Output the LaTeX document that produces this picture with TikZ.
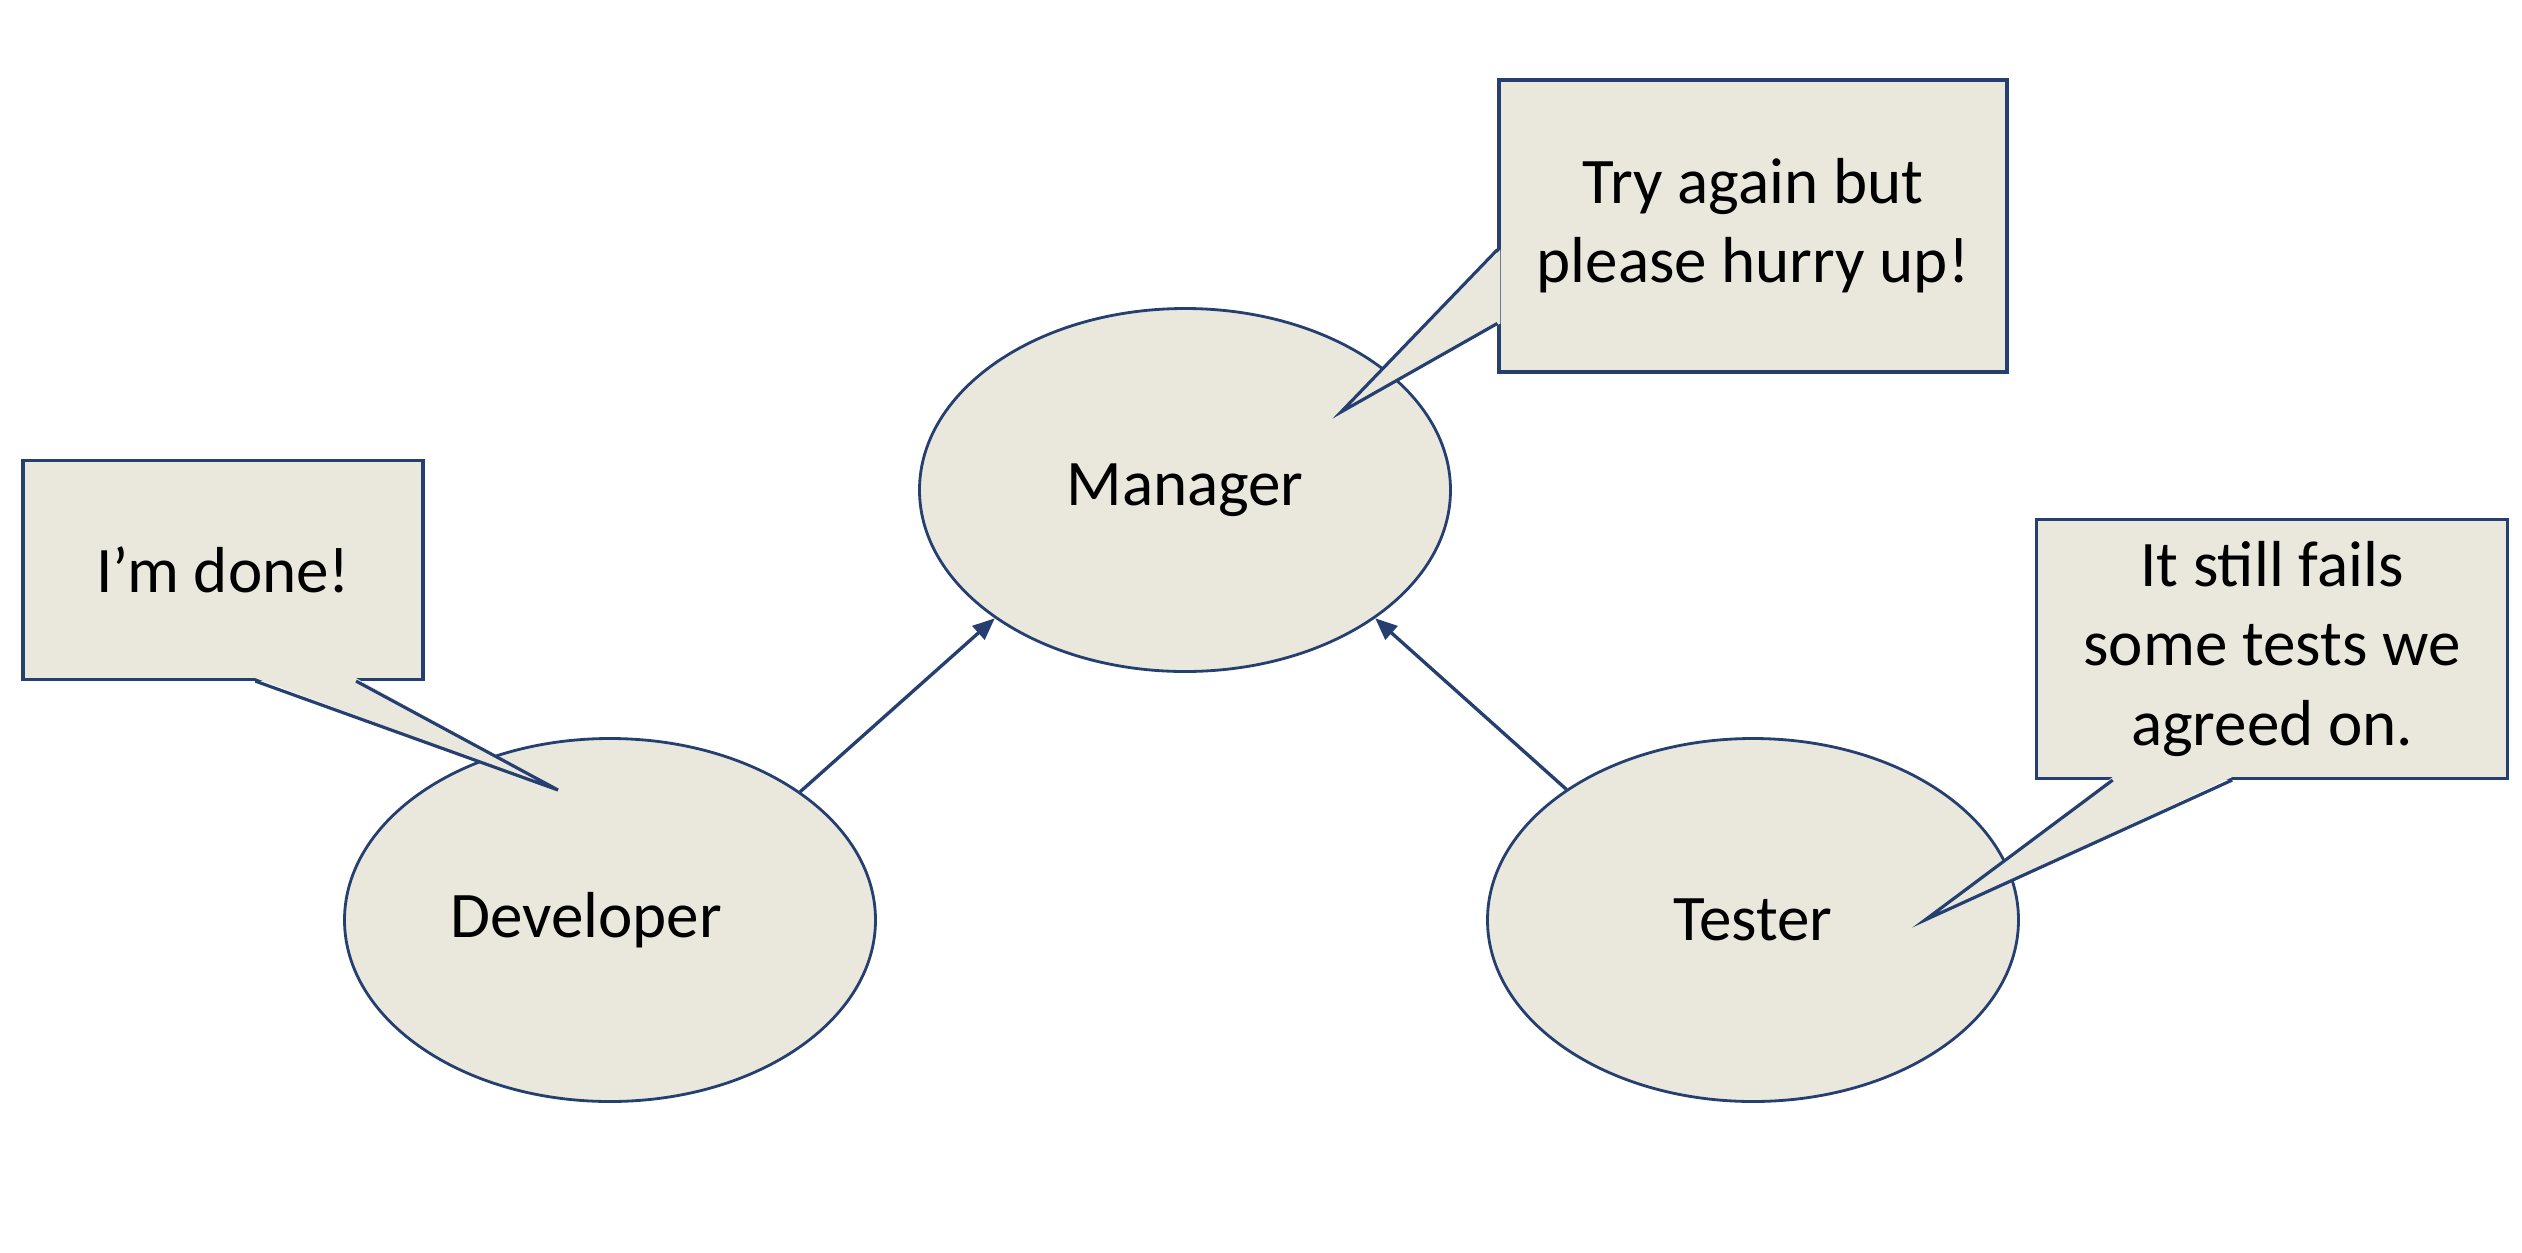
\documentclass[tikz,border=0pt]{standalone}
\usepackage{fontspec}
\setmainfont{Carlito}
\usetikzlibrary{arrows.meta,shapes.geometric,calc}
\definecolor{bubblefill}{RGB}{234,232,221}
\definecolor{bubbleline}{RGB}{36,63,112}

\begin{document}
\begin{tikzpicture}
\tikzstyle{role} = [ellipse, draw=bubbleline, line width=0.8pt, fill=bubblefill, inner sep=0pt, minimum width=5.31cm, minimum height=3.63cm, font=\fontsize{18.5}{22.5}\selectfont]
\tikzstyle{saybox} = [rectangle, draw=bubbleline, line width=0.9pt, fill=bubblefill, align=center, font=\fontsize{18.5}{22.5}\selectfont]
\tikzstyle{pointer} = [draw=bubbleline, line width=0.9pt, line join=miter]
\tikzstyle{report} = [-{Triangle[length=2.2mm,width=1.8mm]}, draw=bubbleline, line width=0.95pt]

\useasboundingbox (0,0) rectangle (25.22,-12.52);

\node[role](manager) at (11.85,-4.90){Manager};
\node[role](developer) at (6.10,-9.20){Developer\hspace*{0.48cm}};
\node[role](tester) at (17.53,-9.20){Tester};

\draw[report] (developer.34.5) -- (manager.214.7);
\draw[report] (tester.145.5) -- (manager.-34.5);

% speech bubbles
\node[saybox, minimum width=4.00cm, minimum height=2.19cm](done) at (2.23,-5.70){I’m done!};
\coordinate (donetip) at (5.58,-7.90);
\fill[bubblefill] ($(done.south west)!0.58!(done.south east)+(0,0.03)$) -- (donetip) -- ($(done.south west)!0.83!(done.south east)+(0,0.03)$) -- cycle;
\draw[pointer] ($(done.south west)!0.58!(done.south east)$) -- (donetip) -- ($(done.south west)!0.83!(done.south east)$);

\node[saybox, minimum width=5.08cm, minimum height=2.92cm](hurry) at (17.53,-2.26){Try again but\\please hurry up!};
\coordinate (hurrytip) at (13.41,-4.12);
\fill[bubblefill] ($(hurry.north west)!0.58!(hurry.south west)+(0.03,0)$) -- (hurrytip) -- ($(hurry.north west)!0.83!(hurry.south west)+(0.03,0)$) -- cycle;
\draw[pointer] ($(hurry.north west)!0.58!(hurry.south west)$) -- (hurrytip) -- ($(hurry.north west)!0.83!(hurry.south west)$);

\node[saybox, minimum width=4.71cm, minimum height=2.59cm](fails) at (22.72,-6.49){It still fails\\some tests we\\agreed on.};
\coordinate (failstip) at (19.25,-9.20);
\fill[bubblefill] ($(fails.south west)!0.164!(fails.south east)+(0,0.03)$) -- (failstip) -- ($(fails.south west)!0.416!(fails.south east)+(0,0.03)$) -- cycle;
\draw[pointer] ($(fails.south west)!0.164!(fails.south east)$) -- (failstip) -- ($(fails.south west)!0.416!(fails.south east)$);
\end{tikzpicture}
\end{document}
